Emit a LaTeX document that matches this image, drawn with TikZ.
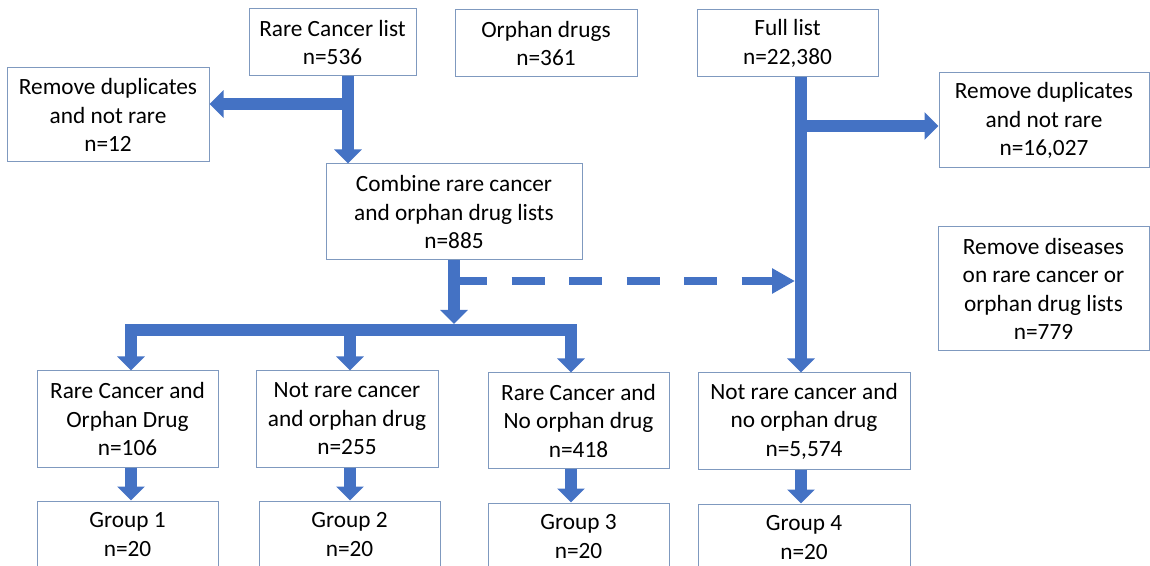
\documentclass[tikz,border=0pt]{standalone}
\usepackage{fontspec}
\setmainfont{Carlito}
\usepackage{tikz}
\usetikzlibrary{arrows.meta}
\definecolor{arrowblue}{RGB}{68,114,196}
\definecolor{boxline}{RGB}{127,153,191}
\newcommand{\boxfont}{\fontsize{11.65}{14.25}\selectfont}

\begin{document}
\begin{tikzpicture}[x=0.5pt,y=-0.5pt]
\tikzstyle{box} = [draw=boxline, line width=0.5pt, align=center, inner sep=0pt, font=\boxfont]
\tikzstyle{fat} = [draw=arrowblue, line width=6pt, -{Triangle[width=13.5pt,length=7pt]}]
\tikzstyle{dashfat} = [draw=arrowblue, line width=4.25pt, dash pattern=on 16.5pt off 12.25pt, -{Triangle[width=12pt,length=11.5pt]}]

\clip (0,0) rectangle (1150,566);

% top row
\path (332.5,42.5) node[box,minimum width=83.5pt,minimum height=33.5pt] (rc) {Rare Cancer list\\n=536};
\path (546,43.5) node[box,minimum width=91pt,minimum height=33.5pt] (od) {Orphan drugs\\n=361};
\path (787.5,43.5) node[box,minimum width=90.5pt,minimum height=33.5pt] (fl) {Full list\\n=22,380};

% removed
\path (108,115) node[box,minimum width=101pt,minimum height=47pt] (rd1) {Remove duplicates\\and not rare\\n=12};
\path (1044,120.5) node[box,minimum width=105pt,minimum height=47.5pt] (rd2) {Remove duplicates\\and not rare\\n=16,027};
\path (1043.5,289) node[box,minimum width=105.5pt,minimum height=62pt] (rdd) {Remove diseases\\on rare cancer or\\orphan drug lists\\n=779};

\path (454,212) node[box,minimum width=128pt,minimum height=48pt] (cb) {Combine rare cancer\\and orphan drug lists\\n=885};

% categories
\path (127.5,419) node[box,minimum width=90.5pt,minimum height=48pt] (b1) {Rare Cancer and\\Orphan Drug\\n=106};
\path (347,419) node[box,minimum width=91pt,minimum height=48pt] (b2) {Not rare cancer\\and orphan drug\\n=255};
\path (578.5,420.5) node[box,minimum width=90.5pt,minimum height=47.5pt] (b3) {Rare Cancer and\\No orphan drug\\n=418};
\path (804,421) node[box,minimum width=106pt,minimum height=48pt] (b4) {Not rare cancer and\\no orphan drug\\n=5,574};

% groups
\path (127.5,534.5) node[box,minimum width=90.5pt,minimum height=33.5pt] (g1) {Group 1\\n=20};
\path (349.5,534.5) node[box,minimum width=90.5pt,minimum height=33.5pt] (g2) {Group 2\\n=20};
\path (578.5,536.5) node[box,minimum width=90.5pt,minimum height=33.5pt] (g3) {Group 3\\n=20};
\path (804,537.5) node[box,minimum width=106pt,minimum height=33.5pt] (g4) {Group 4\\n=20};

% arrow columns
\coordinate (xrc) at (348,0);
\coordinate (xfl) at (801,0);
\coordinate (x1) at (131,0);
\coordinate (x2) at (350,0);
\coordinate (x3) at (571,0);
\coordinate (jl) at (348,104);
\coordinate (jr) at (801,126);
\coordinate (split) at (454,330);
\coordinate (dstart) at (454,281);

\draw[fat] (rc.south -| xrc) -- (cb.north -| xrc);
\draw[fat] (jl) -- (jl -| rd1.east);
\draw[fat] (fl.south -| xfl) -- (b4.north -| xfl);
\draw[fat] (jr) -- (jr -| rd2.west);

\draw[fat] (cb.south) -- ([yshift=3pt]split);
\draw[fat, {Triangle[width=13.5pt,length=7pt]}-{Triangle[width=13.5pt,length=7pt]}, line join=miter]
  (b1.north -| x1) |- (split -| x3) -- (b3.north -| x3);
\draw[fat] (split -| x2) -- (b2.north -| x2);
\draw[dashfat] (dstart) -- ([xshift=-3pt]dstart -| xfl);

\draw[fat] (b1.south -| x1) -- (g1.north -| x1);
\draw[fat] (b2.south -| x2) -- (g2.north -| x2);
\draw[fat] (b3.south -| x3) -- (g3.north -| x3);
\draw[fat] (b4.south -| xfl) -- (g4.north -| xfl);

\end{tikzpicture}
\end{document}
